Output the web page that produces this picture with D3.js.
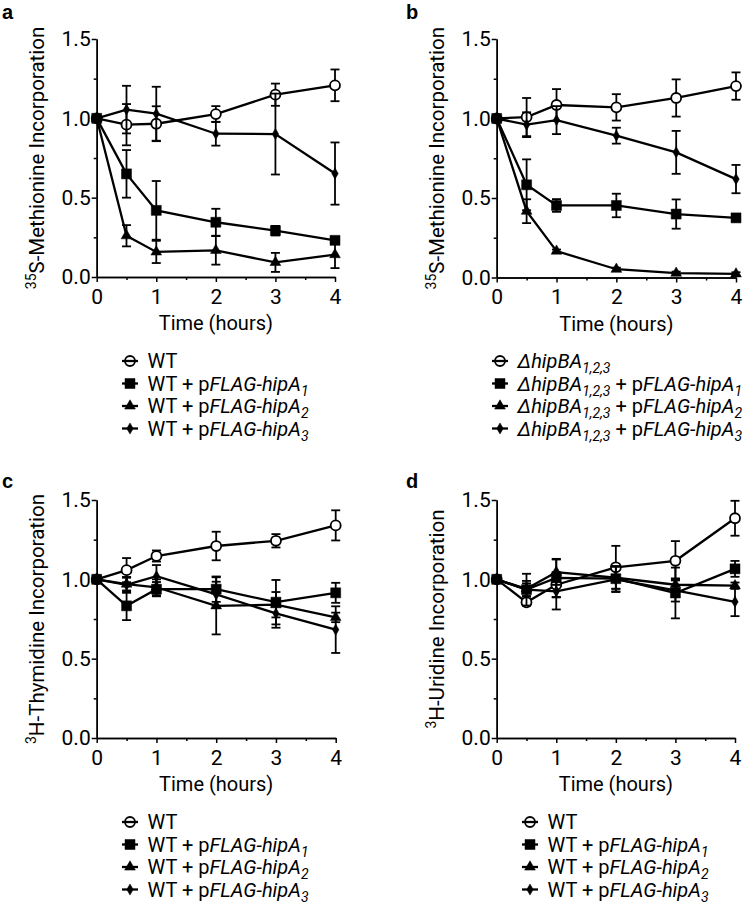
<!DOCTYPE html>
<html><head><meta charset="utf-8">
<script src="https://cdn.jsdelivr.net/npm/d3@7"></script>
<style>body{margin:0;background:#fff} svg text{font-family:Roboto, "Noto Sans", sans-serif; fill:#000}</style>
</head><body><svg id="chart" width="747" height="905"></svg>
<script>
// ---------- data ----------
const times = [0, 0.5, 1, 2, 3, 4];
const xTicks = [0, 1, 2, 3, 4];
const xMinor = [0.5, 1.5, 2.5, 3.5];
const yTicks = [0, 0.5, 1.0, 1.5];
const yMinor = [0.25, 0.75, 1.25];
const xTitle = "Time (hours)";
const panelLetters = ["a", "b", "c", "d"];

// panel a
const aWT = [1.0, 0.96, 0.966, 1.027, 1.149, 1.208];
const aWTErr = [0, 0.13, 0.11, 0.05, 0.07, 0.10];
const aA1 = [1.0, 0.65, 0.42, 0.345, 0.292, 0.231];
const aA1Err = [0, 0.15, 0.185, 0.085, 0.03, 0.02];
const aA2 = [1.0, 0.26, 0.158, 0.168, 0.092, 0.141];
const aA2Err = [0, 0.067, 0.07, 0.09, 0.06, 0.085];
const aA3 = [1.0, 1.055, 1.029, 0.903, 0.901, 0.652];
const aA3Err = [0, 0.15, 0.17, 0.075, 0.255, 0.196];
// panel b
const bWT = [1.0, 1.009, 1.085, 1.07, 1.129, 1.204];
const bWTErr = [0, 0.12, 0.10, 0.083, 0.117, 0.086];
const bA1 = [1.0, 0.583, 0.453, 0.453, 0.399, 0.375];
const bA1Err = [0, 0.16, 0.04, 0.074, 0.092, 0.015];
const bA2 = [1.0, 0.417, 0.166, 0.052, 0.027, 0.023];
const bA2Err = [0, 0.075, 0.01, 0.01, 0.01, 0.01];
const bA3 = [1.0, 0.961, 0.99, 0.892, 0.787, 0.619];
const bA3Err = [0, 0.078, 0.088, 0.05, 0.135, 0.089];
// panel c
const cWT = [1.0, 1.058, 1.147, 1.21, 1.243, 1.34];
const cWTErr = [0, 0.076, 0.035, 0.09, 0.042, 0.095];
const cA1 = [1.0, 0.833, 0.938, 0.938, 0.856, 0.915];
const cA1Err = [0, 0.09, 0.045, 0.08, 0.14, 0.063];
const cA2 = [1.0, 0.97, 0.95, 0.833, 0.84, 0.76];
const cA2Err = [0, 0.04, 0.05, 0.18, 0.08, 0.03];
const cA3 = [1.0, 0.965, 1.02, 0.905, 0.785, 0.683];
const cA3Err = [0, 0.05, 0.07, 0.08, 0.09, 0.147];
// panel d
const dWT = [1.0, 0.855, 0.966, 1.076, 1.117, 1.385];
const dWTErr = [0, 0.02, 0.08, 0.135, 0.124, 0.11];
const dA1 = [1.0, 0.935, 1.009, 1.004, 0.914, 1.066];
const dA1Err = [0, 0.1, 0.12, 0.08, 0.16, 0.05];
const dA2 = [1.0, 0.94, 1.045, 1.01, 0.966, 0.96];
const dA2Err = [0, 0.05, 0.08, 0.07, 0.04, 0.02];
const dA3 = [1.0, 0.935, 0.924, 1.0, 0.93, 0.858];
const dA3Err = [0, 0.04, 0.114, 0.08, 0.07, 0.09];

// y-axis titles: [superscript, rest]
const yTitleA = ["35", "S-Methionine Incorporation"];
const yTitleC = ["3", "H-Thymidine Incorporation"];
const yTitleD = ["3", "H-Uridine Incorporation"];

// legend labels: segments [text, style] n=normal i=italic s=subscript
const legendWT = [
  [["WT", "n"]],
  [["WT + p", "n"], ["FLAG-hipA", "i"], ["1", "s"]],
  [["WT + p", "n"], ["FLAG-hipA", "i"], ["2", "s"]],
  [["WT + p", "n"], ["FLAG-hipA", "i"], ["3", "s"]]
];
const legendDel = [
  [["\u0394hipBA", "i"], ["1,2,3", "s"]],
  [["\u0394hipBA", "i"], ["1,2,3", "s"], [" + p", "n"], ["FLAG-hipA", "i"], ["1", "s"]],
  [["\u0394hipBA", "i"], ["1,2,3", "s"], [" + p", "n"], ["FLAG-hipA", "i"], ["2", "s"]],
  [["\u0394hipBA", "i"], ["1,2,3", "s"], [" + p", "n"], ["FLAG-hipA", "i"], ["3", "s"]]
];

// ---------- drawing ----------
const svg = d3.select("#chart");
const markerTypes = [
  {type: d3.symbolCircle, size: 78, fill: "#fff"},
  {type: d3.symbolSquare, size: 100, fill: "#000"},
  {type: d3.symbolTriangle, size: 50, fill: "#000"},
  {type: d3.symbolDiamond, size: 36, fill: "#000"}
];

const panels = [
  {letter: panelLetters[0], lx: 2, ly: 19, xr: [96.7, 335], yr: [277, 39], yTitle: yTitleA,
   series: [[aWT, aWTErr], [aA1, aA1Err], [aA2, aA2Err], [aA3, aA3Err]], legend: legendWT, lgx: 130, lgy: 368},
  {letter: panelLetters[1], lx: 406, ly: 19, xr: [496.7, 736], yr: [277.5, 39], yTitle: yTitleA,
   series: [[bWT, bWTErr], [bA1, bA1Err], [bA2, bA2Err], [bA3, bA3Err]], legend: legendDel, lgx: 500, lgy: 368},
  {letter: panelLetters[2], lx: 2, ly: 488, xr: [96.7, 335.7], yr: [738, 500], yTitle: yTitleC,
   series: [[cWT, cWTErr], [cA1, cA1Err], [cA2, cA2Err], [cA3, cA3Err]], legend: legendWT, lgx: 130, lgy: 829},
  {letter: panelLetters[3], lx: 406, ly: 488, xr: [496.7, 735], yr: [738, 500], yTitle: yTitleD,
   series: [[dWT, dWTErr], [dA1, dA1Err], [dA2, dA2Err], [dA3, dA3Err]], legend: legendWT, lgx: 530, lgy: 829}
];

function addSegments(textSel, segs) {
  let sub = false;
  segs.forEach(([t, st]) => {
    const ts = textSel.append("tspan").text(t);
    if (st === "i" || st === "s") ts.attr("font-style", "italic");
    if (st === "s") {
      ts.attr("font-size", 14).attr("dy", sub ? 0 : 5);
      sub = true;
    } else if (sub) {
      ts.attr("dy", -5);
      sub = false;
    }
  });
}

panels.forEach(p => {
  const x = d3.scaleLinear().domain([0, 4]).range(p.xr);
  const y = d3.scaleLinear().domain([0, 1.5]).range(p.yr);
  const g = svg.append("g");

  // panel letter
  svg.append("text").attr("x", p.lx).attr("y", p.ly)
    .style("font-family", "'Liberation Sans', Arial, sans-serif")
    .attr("font-weight", "bold").attr("font-size", 20).text(p.letter);

  // axes
  g.append("g").attr("transform", `translate(0,${p.yr[0]})`)
    .call(d3.axisBottom(x).tickValues(xTicks).tickFormat(d3.format("d")).tickSize(5).tickSizeOuter(0).tickPadding(7));
  g.append("g").attr("transform", `translate(0,${p.yr[0]})`)
    .call(d3.axisBottom(x).tickValues(xMinor).tickFormat("").tickSize(3).tickSizeOuter(0));
  g.append("g").attr("transform", `translate(${p.xr[0]},0)`)
    .call(d3.axisLeft(y).tickValues(yTicks).tickFormat(d3.format(".1f")).tickSize(5).tickSizeOuter(0).tickPadding(1));
  g.append("g").attr("transform", `translate(${p.xr[0]},0)`)
    .call(d3.axisLeft(y).tickValues(yMinor).tickFormat("").tickSize(3).tickSizeOuter(0));
  g.selectAll(".domain, .tick line").attr("stroke", "#000").attr("stroke-width", 1.5);
  g.selectAll(".tick text").attr("font-size", 21).attr("fill", "#000")
    .style("font-family", "Roboto, sans-serif");

  // axis titles
  svg.append("text").attr("x", (p.xr[0] + p.xr[1]) / 2).attr("y", p.yr[0] + 53)
    .attr("text-anchor", "middle").attr("font-size", 20).text(xTitle);
  const yt = svg.append("text")
    .attr("transform", `translate(${p.xr[0] - 53},${(p.yr[0] + p.yr[1]) / 2}) rotate(-90)`)
    .attr("text-anchor", "middle").attr("font-size", 20.5);
  yt.append("tspan").attr("font-size", 14).attr("dy", -8).text(p.yTitle[0]);
  yt.append("tspan").attr("dy", 8).text(p.yTitle[1]);

  // series
  const line = d3.line().x((d, i) => x(times[i])).y(d => y(d));
  p.series.forEach(([vals, errs], si) => {
    const sg = g.append("g");
    sg.append("path").datum(vals).attr("d", line)
      .attr("fill", "none").attr("stroke", "#000").attr("stroke-width", 2.3);
    vals.forEach((v, i) => {
      const e = errs[i];
      if (!e) return;
      const cx = x(times[i]);
      const top = y(v + e), bot = y(v - e);
      sg.append("line").attr("x1", cx).attr("x2", cx).attr("y1", top).attr("y2", bot)
        .attr("stroke", "#000").attr("stroke-width", 1.8);
      [top, bot].forEach(yy => sg.append("line").attr("x1", cx - 4.5).attr("x2", cx + 4.5)
        .attr("y1", yy).attr("y2", yy).attr("stroke", "#000").attr("stroke-width", 1.8));
    });
    const m = markerTypes[si];
    sg.selectAll("path.mk").data(vals).enter().append("path").attr("class", "mk")
      .attr("d", d3.symbol().type(m.type).size(m.size))
      .attr("transform", (d, i) => `translate(${x(times[i])},${y(d)})`)
      .attr("fill", m.fill).attr("stroke", "#000").attr("stroke-width", si === 0 ? 1.8 : 0.5);
  });

  // legend
  p.legend.forEach((segs, li) => {
    const by = p.lgy + li * 22.5;
    const cy = by - 7;
    svg.append("line").attr("x1", p.lgx - 8).attr("x2", p.lgx + 8).attr("y1", cy).attr("y2", cy)
      .attr("stroke", "#000").attr("stroke-width", 2.3);
    const m = markerTypes[li];
    svg.append("path").attr("d", d3.symbol().type(m.type).size(m.size))
      .attr("transform", `translate(${p.lgx},${cy})`)
      .attr("fill", li === 0 ? "none" : "#000").attr("stroke", "#000").attr("stroke-width", li === 0 ? 1.8 : 0.5);
    const t = svg.append("text").attr("x", p.lgx + 17.5).attr("y", by).attr("font-size", 20);
    addSegments(t, segs);
  });
});
</script>
</body></html>
